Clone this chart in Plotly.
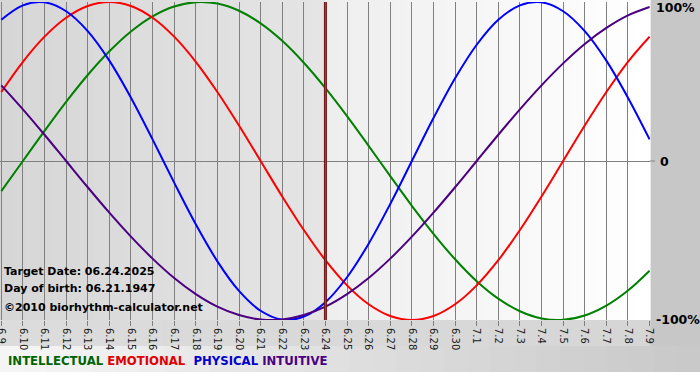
import plotly.graph_objects as go

# ---- data ----
day_labels = ["6.9", "6.10", "6.11", "6.12", "6.13", "6.14", "6.15", "6.16", "6.17", "6.18",
              "6.19", "6.20", "6.21", "6.22", "6.23", "6.24", "6.25", "6.26", "6.27", "6.28",
              "6.29", "6.30", "7.1", "7.2", "7.3", "7.4", "7.5", "7.6", "7.7", "7.8", "7.9"]
day_index = list(range(-15, 16))  # 0 = target date 6.24

physical = [0.888, 0.979, 0.998, 0.942, 0.817, 0.631, 0.398, 0.136, -0.136, -0.398,
            -0.631, -0.817, -0.942, -0.998, -0.979, -0.888, -0.731, -0.520, -0.270, 0.0,
            0.270, 0.520, 0.731, 0.888, 0.979, 0.998, 0.942, 0.817, 0.631, 0.398, 0.136]
emotional = [0.434, 0.624, 0.782, 0.901, 0.975, 1.0, 0.975, 0.901, 0.782, 0.624,
             0.434, 0.223, 0.0, -0.223, -0.434, -0.624, -0.782, -0.901, -0.975, -1.0,
             -0.975, -0.901, -0.782, -0.624, -0.434, -0.223, 0.0, 0.223, 0.434, 0.624, 0.782]
intellectual = [-0.189, 0.0, 0.189, 0.372, 0.541, 0.690, 0.815, 0.910, 0.972, 0.999,
                0.990, 0.945, 0.866, 0.756, 0.618, 0.458, 0.282, 0.095, -0.095, -0.282,
                -0.458, -0.618, -0.756, -0.866, -0.945, -0.990, -0.999, -0.972, -0.910, -0.815, -0.690]
intuitive = [0.476, 0.325, 0.165, 0.0, -0.165, -0.325, -0.476, -0.614, -0.736, -0.837,
             -0.916, -0.969, -0.997, -0.997, -0.969, -0.916, -0.837, -0.736, -0.614, -0.476,
             -0.325, -0.165, 0.0, 0.165, 0.325, 0.476, 0.614, 0.736, 0.837, 0.916, 0.969]

target_day = 0
y_labels = ["100%", "0", "-100%"]
y_label_vals = [1, 0, -1]

# ---- geometry ----
W, H = 700, 380
ML, MR, MT, MB = 0, 50, 2, 60
PW = W - ML - MR
PH = H - MT - MB


def px(x):
    return (x - ML) / PW


def py(y):
    return (H - MB - y) / PH


def hexgray(v):
    v = int(round(v))
    return "#%02x%02x%02x" % (v, v, v)


shapes = []


def rect(x0, y0, x1, y1, color):
    shapes.append(dict(type="rect", xref="paper", yref="paper",
                       x0=px(x0), x1=px(x1), y0=py(y1), y1=py(y0),
                       fillcolor=color, line=dict(width=0), layer="below"))


def hgrad(x0, x1, y0, y1, c0, c1, n=24):
    for i in range(n):
        a = x0 + (x1 - x0) * i / n
        b = x0 + (x1 - x0) * (i + 1) / n + 0.6
        t = (i + 0.5) / n
        rect(a, y0, b, y1, hexgray(c0 + (c1 - c0) * t))


# backgrounds
rect(0, 0, W, H, "#ffffff")
rect(PW, 0, W, 346, "#c7c7c7")
hgrad(0, PW, H - MB, 346, 0xdc, 0xd6, n=20)
hgrad(0, W, 346, 372, 0xf6, 0xc8, n=30)
hgrad(0, 325, MT - 2, H - MB, 0xd6, 0xe5, n=24)
hgrad(325, PW, MT - 2, H - MB, 0xee, 0xff, n=24)

# zero tick on the right
shapes.append(dict(type="line", xref="paper", yref="y", x0=1, x1=px(PW + 5), y0=0, y1=0,
                   line=dict(color="#808080", width=1)))
# target date line
shapes.append(dict(type="line", xref="x", yref="paper", x0=target_day, x1=target_day,
                   y0=0, y1=1, line=dict(color="#6e1515", width=3), layer="above"))
shapes.append(dict(type="line", xref="x", yref="paper", x0=target_day, x1=target_day,
                   y0=0, y1=1, line=dict(color="#b83a3a", width=1), layer="above"))

fig = go.Figure()
series = [
    ("INTELLECTUAL", intellectual, "#008000"),
    ("EMOTIONAL", emotional, "#ff0000"),
    ("PHYSICAL", physical, "#0000ff"),
    ("INTUITIVE", intuitive, "#4b0082"),
]
for name, vals, col in series:
    fig.add_trace(go.Scatter(x=day_index, y=vals, mode="lines", name=name,
                             line=dict(color=col, width=2, shape="spline", smoothing=1.0),
                             hoverinfo="skip"))

annotations = []
font_main = "DejaVu Sans"
for lab, v in zip(y_labels, y_label_vals):
    annotations.append(dict(text="<b>%s</b>" % lab, xref="paper", yref="y",
                            x=px(PW + 4 if lab != "0" else PW + 8), y=v,
                            yshift=-5 if v == 1 else (0 if v == 0 else 1),
                            xanchor="left", yanchor="middle", showarrow=False,
                            font=dict(family=font_main, size=12.5, color="#000000")))

info_lines = [("Target Date: 06.24.2025", 271), ("Day of birth: 06.21.1947", 288),
              ("\u00a92010 biorhythm-calculator.net", 307)]
for txt, yy in info_lines:
    annotations.append(dict(text="<b>%s</b>" % txt, xref="paper", yref="paper",
                            x=px(2), y=py(yy), xanchor="left", yanchor="middle",
                            showarrow=False,
                            font=dict(family=font_main, size=11, color="#000000")))

legend_html = ("<b><span style='color:#006400'>INTELLECTUAL</span> "
               "<span style='color:#e00000'>EMOTIONAL</span>  "
               "<span style='color:#0000cc'>PHYSICAL</span> "
               "<span style='color:#4b0082'>INTUITIVE</span></b>")
annotations.append(dict(text=legend_html, xref="paper", yref="paper",
                        x=px(6), y=py(361), xanchor="left", yanchor="middle",
                        showarrow=False, font=dict(family=font_main, size=11.7)))

fig.update_layout(
    width=W, height=H,
    margin=dict(l=ML, r=MR, t=MT, b=MB, pad=0),
    paper_bgcolor="#ffffff",
    plot_bgcolor="rgba(0,0,0,0)",
    showlegend=False,
    shapes=shapes,
    annotations=annotations,
    xaxis=dict(range=[-15.06, 15.02], tickmode="array", tickvals=day_index,
               ticktext=day_labels, tickangle=90, ticks="outside", ticklen=5,
               tickcolor="#808080", showgrid=True, gridcolor="#808080", gridwidth=1,
               zeroline=False, showline=False, automargin=False,
               ticklabeloverflow="allow",
               tickfont=dict(family=font_main, size=10, color="#202020")),
    yaxis=dict(range=[-1, 1], showgrid=False, zeroline=True, zerolinecolor="#808080",
               zerolinewidth=1, showticklabels=False, ticks="", automargin=False),
)

fig.write_html("out.html", config={"displayModeBar": False},
               post_script="document.body.style.margin='0';document.body.style.padding='0';")
